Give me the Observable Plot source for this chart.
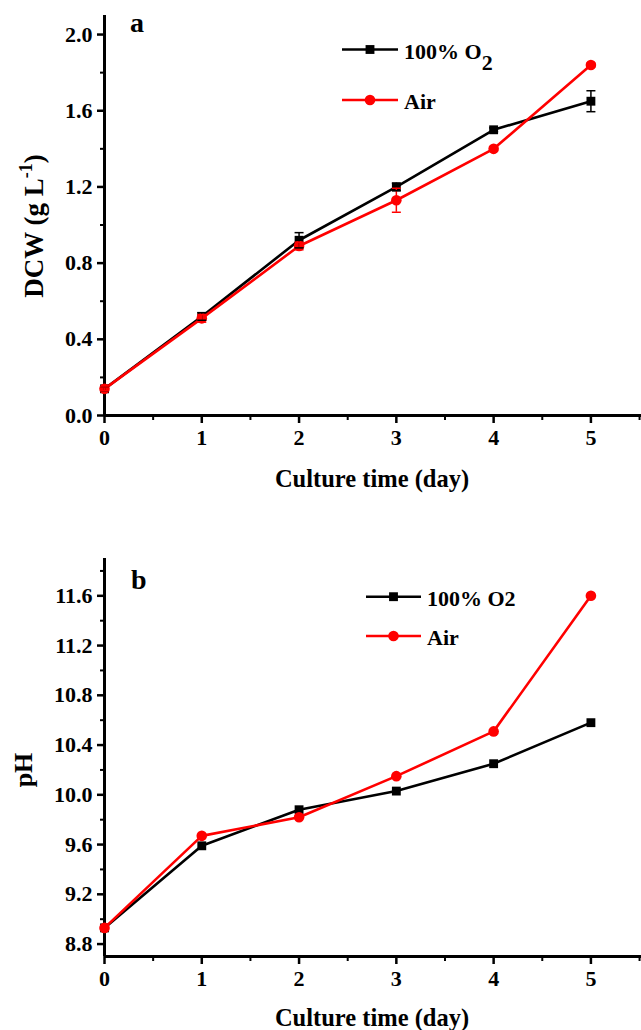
<!DOCTYPE html>
<html><head><meta charset="utf-8">
<script src="https://cdn.jsdelivr.net/npm/d3@7"></script>
<script src="https://cdn.jsdelivr.net/npm/@observablehq/plot@0.6"></script>
<style>
body{margin:0;background:#fff;width:641px;height:1030px;overflow:hidden}
svg{display:block}
</style></head><body><div id="chart"></div>
<script>
const FONT = "'Liberation Serif','Times New Roman',Times,serif";

// ---- data ----
const days = [0, 1, 2, 3, 4, 5];
const seriesNames = ["100% O2", "Air"];
const seriesColors = ["#000000", "#ff0000"];
const seriesSymbols = ["square", "circle"];

const dcwO2 = [0.14, 0.52, 0.92, 1.20, 1.50, 1.65];
const dcwO2Err = [0.01, 0.02, 0.04, 0.02, 0.01, 0.055];
const dcwAir = [0.14, 0.51, 0.89, 1.13, 1.40, 1.84];
const dcwAirErr = [0.01, 0.02, 0.02, 0.063, 0.01, 0.01];

const phO2 = [8.93, 9.59, 9.88, 10.03, 10.25, 10.58];
const phAir = [8.93, 9.67, 9.82, 10.15, 10.51, 11.60];

const xMajorTicks = [0, 1, 2, 3, 4, 5];
const xMinorTicks = [0.5, 1.5, 2.5, 3.5, 4.5, 5.5];
const xDomain = [0, 5.52];

const dcwMajorTicks = [0.0, 0.4, 0.8, 1.2, 1.6, 2.0];
const dcwMinorTicks = [0.2, 0.6, 1.0, 1.4, 1.8];
const dcwDomain = [0, 2.1];

const phMajorTicks = [8.8, 9.2, 9.6, 10.0, 10.4, 10.8, 11.2, 11.6];
const phMinorTicks = [9.0, 9.4, 9.8, 10.2, 10.6, 11.0, 11.4, 11.8];
const phDomain = [8.7, 11.9];

const xTitle = "Culture time (day)";
const panelLetters = ["a", "b"];

// ---- helpers ----
function rowsOf(o2, air, o2Err, airErr) {
  const rows = [];
  days.forEach((d, i) => {
    rows.push({day: d, series: seriesNames[0], value: o2[i], err: o2Err ? o2Err[i] : 0});
  });
  days.forEach((d, i) => {
    rows.push({day: d, series: seriesNames[1], value: air[i], err: airErr ? airErr[i] : 0});
  });
  return rows;
}

const capSymbol = {
  draw(ctx) { ctx.moveTo(-4.5, 0); ctx.lineTo(4.5, 0); }
};

function panel({rows, yDomain, majorY, minorY, height, marginTop, marginBottom, withErr}) {
  const marks = [
    Plot.line(rows.filter(r => r.series === seriesNames[0]), {x: "day", y: "value", stroke: "series", strokeWidth: 2.6}),
    Plot.dot(rows.filter(r => r.series === seriesNames[0]), {x: "day", y: "value", symbol: "series", fill: "series", r: 5}),
    Plot.line(rows.filter(r => r.series === seriesNames[1]), {x: "day", y: "value", stroke: "series", strokeWidth: 2.6}),
    Plot.dot(rows.filter(r => r.series === seriesNames[1]), {x: "day", y: "value", symbol: "series", fill: "series", r: 5.3})
  ];
  if (withErr) {
    const er = rows.filter(r => r.err > 0);
    marks.push(
      Plot.ruleX(er, {x: "day", y1: d => d.value - d.err, y2: d => d.value + d.err, stroke: "series", strokeWidth: 1.5}),
      Plot.dot(er, {x: "day", y: d => d.value + d.err, symbol: capSymbol, stroke: "series", fill: "none", strokeWidth: 1.5}),
      Plot.dot(er, {x: "day", y: d => d.value - d.err, symbol: capSymbol, stroke: "series", fill: "none", strokeWidth: 1.5})
    );
  }
  return Plot.plot({
    width: 641,
    height,
    marginTop,
    marginBottom,
    marginLeft: 104,
    marginRight: 0,
    style: {fontFamily: FONT, background: "#fff", overflow: "visible"},
    x: {domain: xDomain},
    y: {domain: yDomain},
    color: {domain: seriesNames, range: seriesColors},
    symbol: {domain: seriesNames, range: seriesSymbols},
    marks: [
      Plot.axisX(xMinorTicks, {tickSize: 5, tickFormat: () => "", strokeWidth: 2, label: null}),
      Plot.axisX(xMajorTicks, {tickSize: 8, tickPadding: 6, tickFormat: d => String(d), strokeWidth: 2.5,
        fontSize: 22, fontWeight: "bold", fontFamily: FONT, fill: "#000", label: null}),
      Plot.axisY(minorY, {tickSize: 4, tickFormat: () => "", strokeWidth: 2, label: null}),
      Plot.axisY(majorY, {tickSize: 7, tickPadding: 5, tickFormat: d3.format(".1f"), strokeWidth: 2.5,
        fontSize: 22, fontWeight: "bold", fontFamily: FONT, fill: "#000", label: null}),
      Plot.ruleY([yDomain[0]], {strokeWidth: 3}),
      Plot.ruleX([xDomain[0]], {strokeWidth: 3}),
      ...marks
    ]
  });
}

function addLegend(svg, {x1, x2, ys, textX, size, subscript}) {
  const g = d3.select(svg).append("g").attr("font-family", FONT).attr("font-weight", "bold")
    .attr("font-size", size).attr("text-anchor", "start");
  seriesNames.forEach((name, i) => {
    const y = ys[i];
    g.append("line").attr("x1", x1).attr("x2", x2).attr("y1", y).attr("y2", y)
      .attr("stroke", seriesColors[i]).attr("stroke-width", 2.6);
    const sym = seriesSymbols[i] === "square" ? d3.symbolSquare : d3.symbolCircle;
    const r = seriesSymbols[i] === "square" ? 5 : 5.3;
    g.append("path").attr("d", d3.symbol(sym, Math.PI * r * r)())
      .attr("transform", `translate(${(x1 + x2) / 2},${y})`).attr("fill", seriesColors[i]);
    const t = g.append("text").attr("x", textX).attr("y", y + 9).attr("fill", "#000").attr("text-anchor", "start");
    if (subscript && name.endsWith("O2")) {
      t.append("tspan").text(name.slice(0, -1));
      t.append("tspan").attr("dy", 11).text("2");
    } else {
      t.text(name);
    }
  });
}

function addText(svg, {x, y, size, rotate, anchor}) {
  return d3.select(svg).append("text")
    .attr("transform", `translate(${x},${y})${rotate ? ` rotate(${rotate})` : ""}`)
    .attr("text-anchor", anchor || "middle")
    .attr("font-family", FONT).attr("font-weight", "bold").attr("font-size", size).attr("fill", "#000");
}

// ---- panel a ----
const svgA = panel({
  rows: rowsOf(dcwO2, dcwAir, dcwO2Err, dcwAirErr),
  yDomain: dcwDomain, majorY: dcwMajorTicks, minorY: dcwMinorTicks,
  height: 530, marginTop: 15, marginBottom: 115, withErr: true
});
addLegend(svgA, {x1: 342, x2: 398, ys: [49.5, 100], textX: 404, size: 22, subscript: true});
addText(svgA, {x: 130, y: 32, size: 28, anchor: "start"}).text(panelLetters[0]);
addText(svgA, {x: 372, y: 487, size: 24.5}).text(xTitle);
{
  const t = addText(svgA, {x: 43, y: 226, size: 27, rotate: -90});
  t.append("tspan").text("DCW (g L");
  t.append("tspan").attr("dy", -11).attr("font-size", 18).text("-1");
  t.append("tspan").attr("dy", 11).text(")");
}

// ---- panel b ----
const svgB = panel({
  rows: rowsOf(phO2, phAir),
  yDomain: phDomain, majorY: phMajorTicks, minorY: phMinorTicks,
  height: 500, marginTop: 28, marginBottom: 74, withErr: false
});
addLegend(svgB, {x1: 366, x2: 421, ys: [66.7, 106], textX: 427, size: 22, subscript: false});
addText(svgB, {x: 131, y: 59, size: 28, anchor: "start"}).text(panelLetters[1]);
addText(svgB, {x: 372, y: 496, size: 24.5}).text(xTitle);
addText(svgB, {x: 32, y: 240, size: 26, rotate: -90}).text("pH");

document.getElementById("chart").append(svgA, svgB);
</script></body></html>
